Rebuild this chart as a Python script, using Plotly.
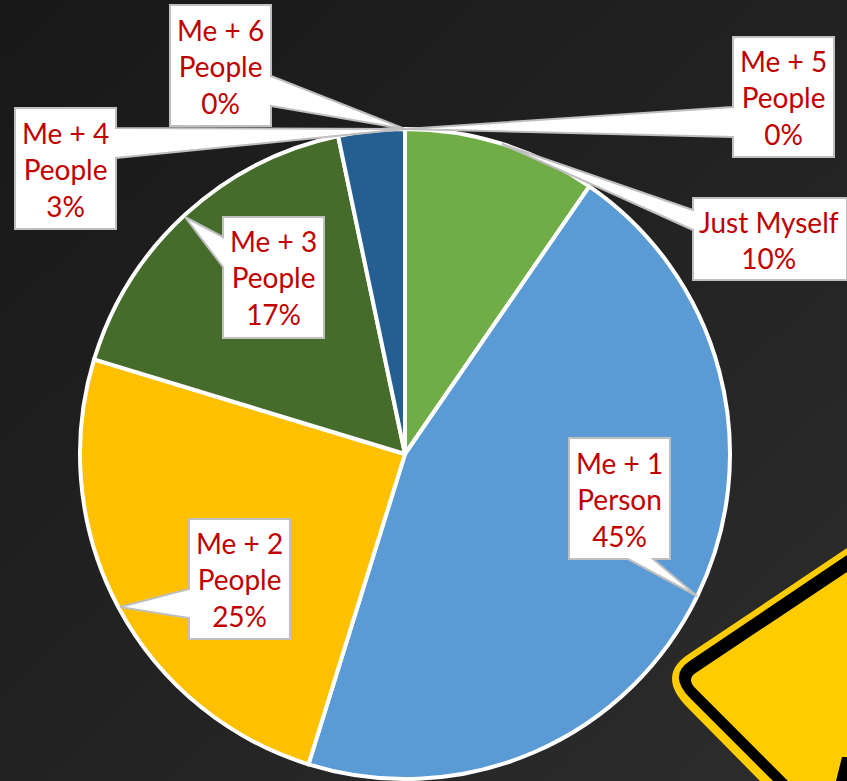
import base64
import plotly.graph_objects as go

W, H = 847, 781
categories = ["Just Myself", "Me + 1<br>Person", "Me + 2<br>People", "Me + 3<br>People",
              "Me + 4<br>People", "Me + 5<br>People", "Me + 6<br>People"]
values = [9.6, 45.2, 24.9, 17.0, 3.3, 0, 0]
colors = ["#70AD47", "#5B9BD5", "#FFC000", "#466C2C", "#255E91", "#9E480E", "#636363"]

# callout geometry in page pixels: box (x0, y0, x1, y1), side of wedge, wedge base a, b, tip
callouts = [
    ((693, 198, 847, 280), "l", 210, 230, (502, 144)),
    ((569, 438, 670, 559), "b", 628, 653, (697, 596)),
    ((189, 519, 290, 639), "l", 589, 618, (120, 607)),
    ((223, 217, 324, 338), "l", 237, 267, (185, 217)),
    ((15, 108, 116, 229), "r", 128, 158, (405, 129)),
    ((733, 37, 834, 157), "l", 107, 137, (405, 129)),
    ((170, 5, 271, 126), "r", 76, 106, (405, 129)),
]


def X(p):
    return p / W


def Y(p):
    return 1 - p / H


def pt(p):
    return f"{X(p[0]):.5f},{Y(p[1]):.5f}"


def path(points, tail=" Z"):
    return "M " + " L ".join(pt(p) for p in points) + tail


def callout_path(box, side, a, b, tip):
    x0, y0, x1, y1 = box
    if side == "l":
        pts = [(x0, y0), (x1, y0), (x1, y1), (x0, y1), (x0, b), tip, (x0, a)]
    elif side == "r":
        pts = [(x0, y0), (x1, y0), (x1, a), tip, (x1, b), (x1, y1), (x0, y1)]
    else:
        pts = [(x0, y0), (x1, y0), (x1, y1), (b, y1), tip, (a, y1), (x0, y1)]
    return path(pts)


def sign_layer(top, a, c, b, bottom):
    return (f"M {pt(top)} L {pt(a)} Q {pt(c)} {pt(b)} L {pt(bottom)} "
            f"L {pt((W, H))} Z")


svg = f'''<svg xmlns="http://www.w3.org/2000/svg" width="{W}" height="{H}">
<defs><linearGradient id="g" x1="0" y1="0" x2="1" y2="1">
<stop offset="0" stop-color="#181818"/><stop offset="0.5" stop-color="#222222"/><stop offset="1" stop-color="#2d2d2d"/>
</linearGradient></defs><rect width="{W}" height="{H}" fill="url(#g)"/></svg>'''
bg = "data:image/svg+xml;base64," + base64.b64encode(svg.encode()).decode()

shapes = [
    dict(type="path", xref="paper", yref="paper", layer="below",
         path=sign_layer((847, 548), (688, 654.6), (656, 676), (688, 708), (760, 781)),
         fillcolor="#FFCC00", line_width=0),
    dict(type="path", xref="paper", yref="paper", layer="below",
         path=sign_layer((847, 555), (690, 660.7), (667.7, 675.6), (690, 698), (773, 781)),
         fillcolor="#000000", line_width=0),
    dict(type="path", xref="paper", yref="paper", layer="below",
         path=sign_layer((847, 572), (695.6, 673), (686.4, 679), (695.6, 688.6), (788, 781)),
         fillcolor="#FFCC00", line_width=0),
    dict(type="path", xref="paper", yref="paper", layer="below",
         path=path([(842, 757), (847, 757), (847, 781), (836, 781)]), fillcolor="#000000", line_width=0),
]
annotations = []
for cat, val, (box, side, a, b, tip) in zip(categories, values, callouts):
    shapes.append(dict(type="path", xref="paper", yref="paper", layer="above",
                       path=callout_path(box, side, a, b, tip),
                       fillcolor="#FFFFFF", line=dict(color="#BFBFBF", width=2)))
    annotations.append(dict(xref="paper", yref="paper", x=X((box[0] + box[2]) / 2 - (1 if box[2] == W else 0)),
                            y=Y((box[1] + box[3]) / 2 + 0.5), xanchor="center", yanchor="middle", showarrow=False,
                            text=f"{cat}<br>{round(val)}%", align="center",
                            font=dict(family="Lato", size=28, color="#C00000")))

fig = go.Figure(go.Pie(
    labels=[c.replace("<br>", " ") for c in categories], values=values, sort=False,
    direction="clockwise", rotation=0, marker=dict(colors=colors, line=dict(color="#FFFFFF", width=4)),
    textinfo="none", showlegend=False, hoverinfo="label+percent",
    domain=dict(x=[X(80), X(730)], y=[Y(779), Y(129)]),
))
fig.update_layout(
    width=W, height=H, margin=dict(l=0, r=0, t=0, b=0), autosize=False,
    paper_bgcolor="#202020", plot_bgcolor="#202020", showlegend=False,
    shapes=shapes, annotations=annotations,
    images=[dict(source=bg, xref="paper", yref="paper", x=0, y=1, sizex=1, sizey=1,
                 xanchor="left", yanchor="top", sizing="stretch", layer="below")],
)
fig.write_html("out.html", config=dict(displayModeBar=False),
               post_script="document.body.style.margin='0';document.body.style.overflow='hidden';")
